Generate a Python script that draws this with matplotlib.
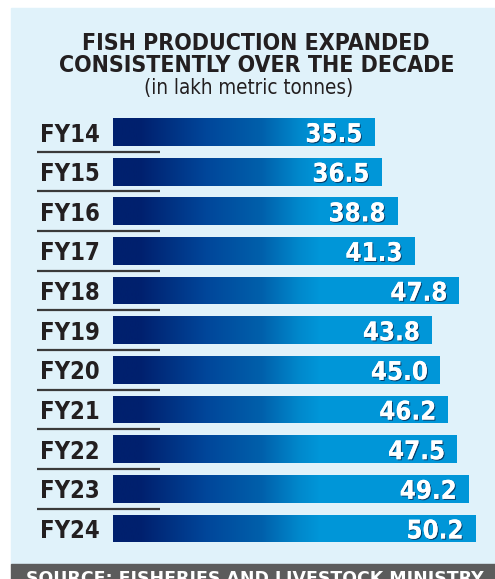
import numpy as np
import matplotlib
matplotlib.use("Agg")
import matplotlib.pyplot as plt
import matplotlib.patheffects as pe
from matplotlib.colors import LinearSegmentedColormap
from matplotlib.patches import Rectangle
from matplotlib.transforms import blended_transform_factory

# Data
years = ["FY14", "FY15", "FY16", "FY17", "FY18", "FY19",
         "FY20", "FY21", "FY22", "FY23", "FY24"]
production = [35.5, 36.5, 38.8, 41.3, 47.8, 43.8, 45.0, 46.2, 47.5, 49.2, 50.2]
value_labels = ["35.5", "36.5", "38.8", "41.3", "47.8", "43.8",
                "45.0", "46.2", "47.5", "49.2", "50.2"]

title_lines = ["FISH PRODUCTION EXPANDED", "CONSISTENTLY OVER THE DECADE"]
subtitle = "(in lakh metric tonnes)"
source = "SOURCE: FISHERIES AND LIVESTOCK MINISTRY"

# Style
W, H = 495, 579
PANEL = "#e0f2fa"
FOOTER = "#5c5c5c"
INK = "#231f20"
NARROW = ["DejaVu Sans"]
BASE = -2.62  # bars do not start at zero in the original
GRAD_SPAN = 30  # gradient length in data units, flat colour after it

bar_cmap = LinearSegmentedColormap.from_list(
    "bars", [(0.0, "#00206e"), (0.13, "#00206e"), (0.45, "#00469a"),
             (0.72, "#0060ab"), (0.9, "#0088cc"), (1.0, "#0096d8")])

fig = plt.figure(figsize=(W / 100, H / 100), dpi=100)
fig.patch.set_facecolor("white")

def fx(px):
    return px / W

def fy(py):
    return 1 - py / H

# background panel and footer strip
fig.add_artist(Rectangle((fx(11), fy(564)), fx(W - 11), 556 / H,
                         transform=fig.transFigure, color=PANEL, zorder=-10))
fig.add_artist(Rectangle((fx(11), 0), fx(W - 11), 15.5 / H,
                         transform=fig.transFigure, color=FOOTER, zorder=-10))

# title
fig.text(0.516, fy(49.5), title_lines[0], ha="center", va="baseline",
         family=NARROW, stretch="condensed", weight="bold", fontsize=16.6, color=INK)
fig.text(0.518, fy(71.5), title_lines[1], ha="center", va="baseline",
         family=NARROW, stretch="condensed", weight="bold", fontsize=16.6, color=INK)
fig.text(0.503, fy(94), subtitle, ha="center", va="baseline",
         family=NARROW, stretch="condensed", fontsize=14.8, color=INK)

# bars axes
ax_left, ax_right = 113, 495
top, bottom = 112.2, 548.3
ax = fig.add_axes([fx(ax_left), fy(bottom), fx(ax_right - ax_left), (bottom - top) / H])
ax.set_facecolor("none")
xmax = BASE + (ax_right - ax_left) / 6.87

y = np.arange(len(years))
grad = np.linspace(0, 1, 256).reshape(1, -1)
bars = ax.barh(y, np.array(production) - BASE, left=BASE, height=0.7,
               color="none", edgecolor="none")
for bar in bars:
    im = ax.imshow(grad, cmap=bar_cmap, aspect="auto",
                   extent=(BASE, BASE + GRAD_SPAN, -0.5, len(years) - 0.5),
                   interpolation="bicubic", zorder=2)
    im.set_clip_path(bar)
    x0 = BASE + GRAD_SPAN
    ax.add_patch(Rectangle((x0, bar.get_y()), bar.get_x() + bar.get_width() - x0,
                           bar.get_height(), color="#0096d8", lw=0, zorder=2))

shadow = [pe.withSimplePatchShadow(offset=(0.8, -0.8), shadow_rgbFace="#0a2a50", alpha=0.8),
          pe.Normal()]
for yi, v, lab in zip(y, production, value_labels):
    ax.annotate(lab, (v, yi), xytext=(-12, 0), textcoords="offset pixels",
                ha="right", va="center_baseline", family=NARROW, stretch="condensed",
                weight="bold", fontsize=18.5, color="white", zorder=5, path_effects=shadow)

ax.set_xlim(BASE, xmax)
ax.set_ylim(len(years) - 0.5, -0.5)
ax.axis("off")

# category labels and separators, x in figure space
trans = blended_transform_factory(fig.transFigure, ax.transData)
for yi, name in zip(y, years):
    ax.text(fx(70), yi, name, transform=trans, ha="center", va="center_baseline",
            family=NARROW, stretch="condensed", weight="bold", fontsize=17,
            color=INK, clip_on=False)
for yi in y[:-1]:
    ax.plot([fx(37), fx(160)], [yi + 0.5, yi + 0.5], transform=trans,
            color="#3a3a3a", lw=1.6, clip_on=False, solid_capstyle="butt")

# source strip text (cut off at the bottom like the original)
fig.text(fx(255), fy(570), source, ha="center", va="top", family="DejaVu Sans",
         weight="bold", fontsize=12.5, color="white")

fig.savefig("out.png", dpi=100)
